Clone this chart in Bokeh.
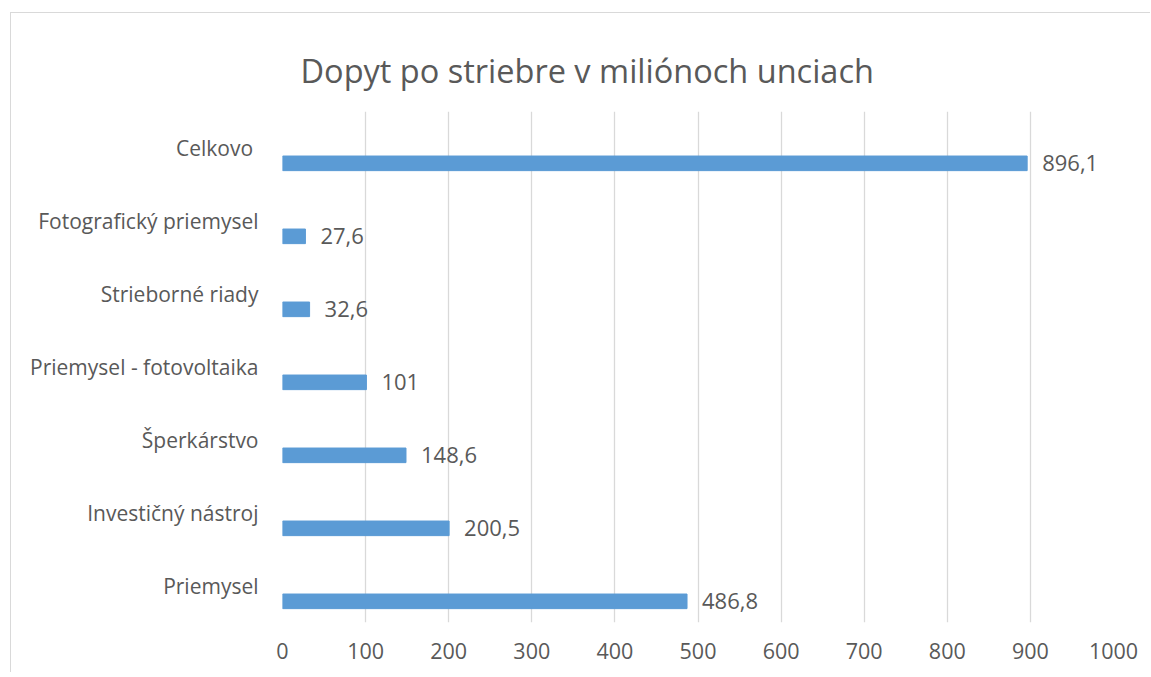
from bokeh.plotting import figure
from bokeh.models import ColumnDataSource, FactorRange, Range1d, FixedTicker
from bokeh.transform import dodge
from bokeh.embed import file_html
from bokeh.resources import INLINE

categories = ["Priemysel", "Investičný nástroj", "Šperkárstvo",
              "Priemysel - fotovoltaika", "Strieborné riady",
              "Fotografický priemysel", "Celkovo "]
values = [486.8, 200.5, 148.6, 101, 32.6, 27.6, 896.1]
x_ticks = [0, 100, 200, 300, 400, 500, 600, 700, 800, 900, 1000]
title_text = "Dopyt po striebre v miliónoch unciach"

labels = ["{:g}".format(v).replace(".", ",") for v in values]
src = ColumnDataSource(dict(cat=categories, val=values, lab=labels))

TXT = "#595959"
FONT = "Open Sans"

p = figure(width=1140, height=660, output_backend="svg", toolbar_location=None,
           y_range=FactorRange(factors=categories, range_padding=0),
           x_range=Range1d(0, 1000),
           min_border_left=271, min_border_right=38,
           min_border_top=98, min_border_bottom=51,
           title=title_text)
p.styles = {"margin-left": "10px", "margin-top": "12px",
            "border-top": "1px solid #d9d9d9", "border-left": "1px solid #d9d9d9"}

p.title.text_font = FONT
p.title.text_font_size = "32.5px"
p.title.text_font_style = "normal"
p.title.text_color = TXT
p.title.align = "left"
p.title.offset = 18
p.title.standoff = 34
p.title.vertical_align = "top"

p.hbar(y=dodge("cat", -0.21, range=p.y_range), right="val", left=0, height=0.2,
       color="#5b9bd5", source=src)
p.text(x="val", y=dodge("cat", -0.21, range=p.y_range), text="lab", source=src,
       x_offset=15, text_baseline="middle", text_align="left",
       text_font_size="22px", text_color=TXT, text_font={"value": FONT})

p.outline_line_color = None
p.background_fill_color = "white"
p.border_fill_color = "white"

p.xaxis.ticker = FixedTicker(ticks=x_ticks)
p.xaxis.axis_line_color = None
p.xaxis.major_tick_line_color = None
p.xaxis.minor_tick_line_color = None
p.xaxis.major_label_text_font = FONT
p.xaxis.major_label_text_font_size = "21.5px"
p.xaxis.major_label_text_color = TXT
p.xaxis.major_label_standoff = 14

p.yaxis.axis_line_color = None
p.yaxis.major_tick_line_color = None
p.yaxis.major_label_text_font = FONT
p.yaxis.major_label_text_font_size = "21px"
p.yaxis.major_label_text_color = TXT
p.yaxis.major_label_standoff = 18

p.xgrid.grid_line_color = "#d9d9d9"
p.xgrid.grid_line_width = 1.3
p.ygrid.grid_line_color = None

open("out.html", "w").write(file_html(p, INLINE))
